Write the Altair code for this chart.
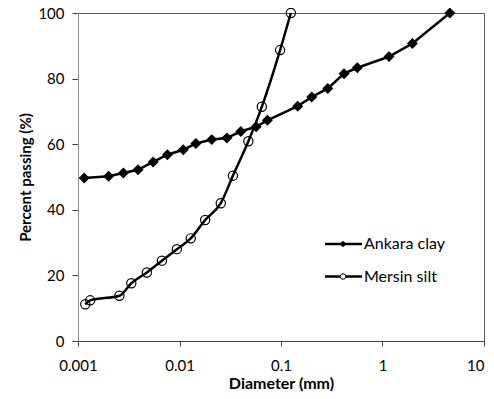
import altair as alt
import pandas as pd

series_names = ["Ankara clay", "Mersin silt"]

ankara_d = [0.00115, 0.0020, 0.0028, 0.0039, 0.0055, 0.0076, 0.0109, 0.0145, 0.0208,
            0.0293, 0.0402, 0.0569, 0.0735, 0.146, 0.201, 0.289, 0.418, 0.565, 1.16,
            1.97, 4.61]
ankara_p = [49.7, 50.2, 51.2, 52.2, 54.6, 56.8, 58.3, 60.2, 61.4, 61.9, 63.9, 65.3,
            67.3, 71.6, 74.4, 77.0, 81.5, 83.3, 86.7, 90.7, 100]
mersin_d = [0.00118, 0.00132, 0.00256, 0.00335, 0.00477, 0.00671, 0.00942, 0.0129,
            0.0179, 0.0255, 0.0336, 0.0477, 0.0647, 0.098, 0.125]
mersin_p = [11.2, 12.4, 13.8, 17.6, 20.9, 24.5, 28.0, 31.3, 36.9, 42.0, 50.4, 60.9,
            71.4, 88.7, 100]

x_ticks = [0.001, 0.01, 0.1, 1, 10]
y_ticks = [0, 20, 40, 60, 80, 100]

ankara = pd.DataFrame({"d": ankara_d, "p": ankara_p, "series": series_names[0]})
mersin = pd.DataFrame({"d": mersin_d, "p": mersin_p, "series": series_names[1]})
legend_df = pd.DataFrame({"series": series_names})

FONT = "Lato"

x_enc = alt.X("d:Q", scale=alt.Scale(type="log", domain=[0.001, 10]),
              axis=alt.Axis(values=x_ticks, format="~g", title="Diameter (mm)",
                            grid=False, tickSize=5, labelPadding=12, titlePadding=2,
                            labelFlush=False, titleFontSize=16,
                            labelAlign={"condition": {"test": "datum.value >= 10",
                                                      "value": "right"},
                                        "value": "center"},
                            domainColor="#404040", tickColor="#404040"))
y_enc = alt.Y("p:Q", scale=alt.Scale(domain=[0, 100], nice=False),
              axis=alt.Axis(values=y_ticks, title="Percent passing (%)", grid=False,
                            tickSize=6, labelPadding=8, titlePadding=4,
                            labelFlush=False,
                            domainColor="#8c8c8c", tickColor="#404040"))

a_line = alt.Chart(ankara).mark_line(color="black", strokeWidth=2.5).encode(x=x_enc, y=y_enc)
a_pts = alt.Chart(ankara).mark_point(shape="diamond", filled=True, color="black",
                                     size=120, opacity=1).encode(x="d:Q", y="p:Q")
m_line = alt.Chart(mersin).mark_line(color="black", strokeWidth=2.5,
                                     interpolate="monotone").encode(x="d:Q", y="p:Q")
m_pts = alt.Chart(mersin).mark_point(shape="circle", filled=False, color="black",
                                     size=85, strokeWidth=1.2, opacity=1).encode(x="d:Q", y="p:Q")

legend_layers = []
for i, name in enumerate(series_names):
    ly = 231 + i * 32.5
    base = alt.Chart(legend_df).transform_filter(alt.datum.series == name)
    legend_layers.append(base.mark_rule(color="black", strokeWidth=2.5).encode(
        x=alt.value(247), x2=alt.value(284), y=alt.value(ly)))
    if i == 0:
        legend_layers.append(base.mark_point(shape="diamond", filled=True, color="black",
                                             size=45, opacity=1).encode(
            x=alt.value(265), y=alt.value(ly)))
    else:
        legend_layers.append(base.mark_point(shape="circle", filled=True, fill="white",
                                             stroke="black", strokeWidth=1, size=30,
                                             opacity=1).encode(
            x=alt.value(265), y=alt.value(ly)))
    legend_layers.append(base.mark_text(align="left", baseline="middle", font=FONT,
                                        fontSize=16, color="black").encode(
        x=alt.value(286), y=alt.value(ly), text="series:N"))

chart = alt.layer(a_line, a_pts, m_line, m_pts, *legend_layers).properties(
    width=406, height=328,
    autosize=alt.AutoSizeParams(type="none"),
    padding={"left": 70, "top": 5, "right": 2, "bottom": 50},
).configure_view(stroke="#595959", strokeWidth=1).configure_axis(
    labelFont=FONT, titleFont=FONT, labelFontSize=15, titleFontSize=15,
    labelColor="black", titleColor="black", titleFontWeight="bold",
)

chart.save("out.html", embed_options={"renderer": "svg", "actions": False})
